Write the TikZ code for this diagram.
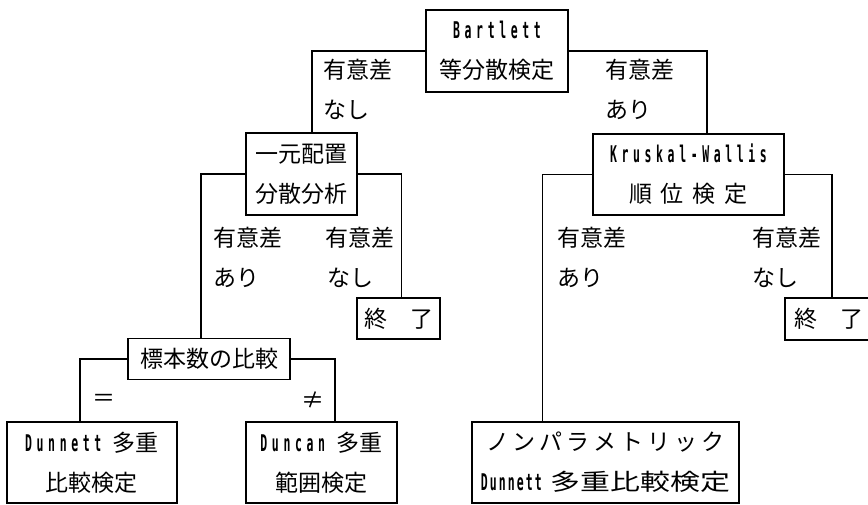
\documentclass[tikz,border=0pt]{standalone}
\usepackage{fontspec}
\setmainfont{Noto Sans CJK JP}
\newfontfamily\latfont[FakeStretch=0.5,LetterSpace=20]{DejaVu Sans Mono}
\newfontfamily\latfontn[FakeStretch=0.5,LetterSpace=9]{DejaVu Sans Mono}
\newcommand\latw[1]{{\latfont\bfseries\fontsize{23}{40}\selectfont #1}}
\newcommand\latn[1]{{\latfontn\bfseries\fontsize{23}{40}\selectfont #1}}
\newcommand\jpsize{\fontsize{23}{40}\selectfont}
\newcommand\ksa{\kern4pt}
\newcommand\ksb{\kern9pt}
\tikzset{
  box/.style={draw, line width=1.2pt, inner sep=0pt, align=center, font=\jpsize},
  conn/.style={line width=1.2pt},
  lab/.style={anchor=west, inner sep=0pt, font=\jpsize},
  sym/.style={inner sep=0pt, font=\jpsize}
}
\begin{document}
\begin{tikzpicture}[x=1pt,y=-1pt]
\path[use as bounding box] (0,0) rectangle (868,505);
\clip (0,0) rectangle (868,505);
% boxes
\node[box, minimum width=142pt, minimum height=82pt] (bart) at (497,51) {\latw{Bartlett}\\等分散検定};
\node[box, minimum width=111pt, minimum height=82pt] (ichi) at (301.5,174) {一元配置\\分散分析};
\node[box, minimum width=191pt, minimum height=81pt] (krus) at (688.5,174.5) {\latw{Kruskal-Wallis}\\順\ksb 位\ksb 検\ksb 定};
\node[box, minimum width=83pt, minimum height=41pt] (end1) at (398.5,318.5) {終　了};
\node[box, minimum width=87pt, minimum height=42pt] (end2) at (828.5,319) {終　了};
\node[box, minimum width=162pt, minimum height=41pt] (hyo) at (209,359) {標本数の比較};
\node[box, minimum width=170pt, minimum height=81pt] (dun1) at (92,462.5) {\latw{Dunnett }多重\\比較検定};
\node[box, minimum width=151pt, minimum height=81pt] (dun2) at (321.5,462.5) {\latw{Duncan }多重\\範囲検定};
\node[box, minimum width=267pt, minimum height=81pt] (nonp) at (605.5,462.5) {ノ\ksa ン\ksa パ\ksa ラ\ksa メ\ksa ト\ksa リ\ksa ッ\ksa ク\\\latn{Dunnett }\scalebox{1.3}[1]{多重比較検定}};
% connectors
\draw[conn] (bart.west) -| ([xshift=10.5pt]ichi.north);
\draw[conn] (bart.east) -| ([xshift=18.5pt]krus.north);
\draw[conn] (ichi.west) -| ([xshift=-8pt]hyo.north);
\draw[conn] (ichi.east) -| ([xshift=3pt]end1.north);
\draw[conn] (krus.west) -| ([xshift=-63pt]nonp.north);
\draw[conn] (krus.east) -| ([xshift=3.5pt]end2.north);
\draw[conn] (hyo.west) -| ([xshift=-12pt]dun1.north);
\draw[conn] (hyo.east) -| ([xshift=13.5pt]dun2.north);
% labels
\node[lab] (l1a) at (323,70) {有意差};
\node[lab] (l1b) at (323,110) {なし};
\node[lab] (l2a) at (605,70) {有意差};
\node[lab] (l2b) at (605,110) {あり};
\node[lab] (l3a) at (213,238) {有意差};
\node[lab] (l3b) at (213,278) {あり};
\node[lab] (l4a) at (325,238) {有意差};
\node[lab] (l4b) at (327,278) {なし};
\node[lab] (l5a) at (557,238) {有意差};
\node[lab] (l5b) at (557,278) {あり};
\node[lab] (l6a) at (752,238) {有意差};
\node[lab] (l6b) at (752,278) {なし};
\node[sym] (eq) at (104,400) {＝};
\node[sym] (ne) at (313,400) {≠};
\end{tikzpicture}
\end{document}
